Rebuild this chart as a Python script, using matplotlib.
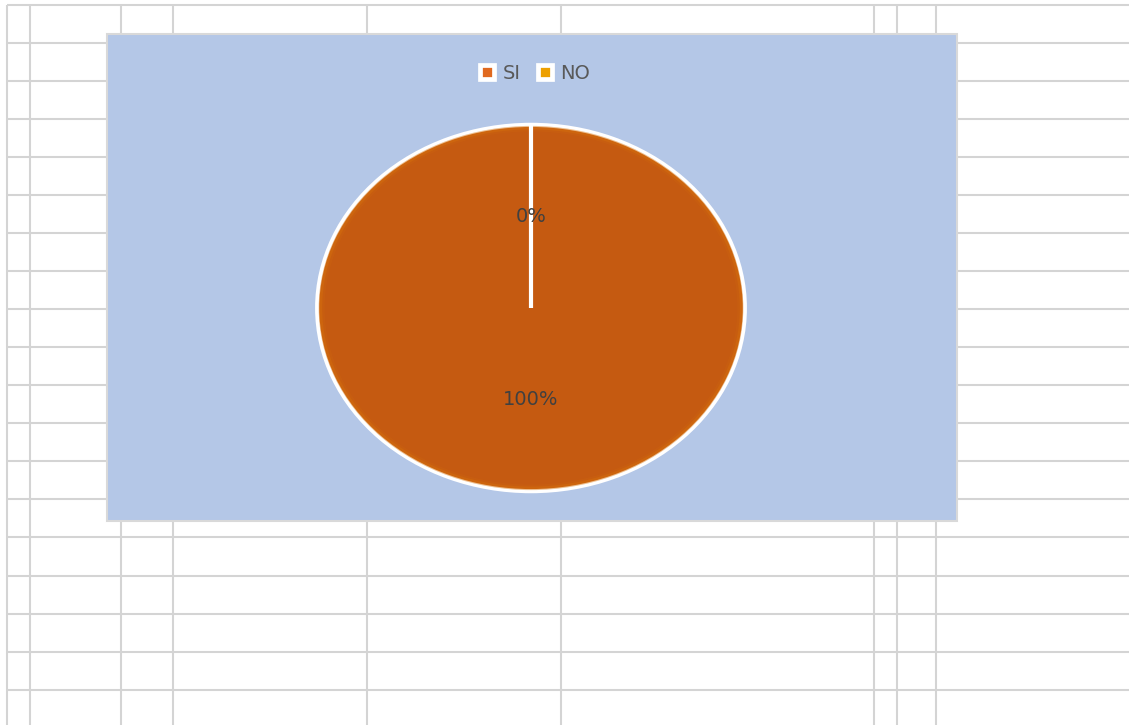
import matplotlib
matplotlib.use("Agg")
import matplotlib.pyplot as plt
from matplotlib.patches import Rectangle, Circle

# ---- data ----
categories = ["SI", "NO"]
values = [100, 0]
colors = ["#C55A11", "#ED9A0C"]
legend_colors = ["#E0691F", "#EDA000"]

# spreadsheet grid (pixel positions of the background cells)
grid_x = [7, 30, 121, 173, 367, 561, 874, 897, 936]
grid_y = [5, 43, 81, 119, 157, 195, 233, 271, 309, 347, 385, 423, 461,
          499, 537, 576, 614, 652, 690]

W, H = 1129, 725
fig = plt.figure(figsize=(W / 100, H / 100), dpi=100)
fig.patch.set_facecolor("white")

# background spreadsheet axes (pixel coordinates)
bg = fig.add_axes([0, 0, 1, 1])
bg.set_xlim(0, W)
bg.set_ylim(H, 0)
bg.axis("off")
gc = "#D4D4D4"
for y in grid_y:
    bg.plot([7, W], [y, y], color=gc, lw=1.5, solid_capstyle="butt")
for x in grid_x:
    bg.plot([x, x], [5, H], color=gc, lw=1.5, solid_capstyle="butt")

# chart area
cx0, cy0, cx1, cy1 = 107, 34, 957, 521
bg.add_patch(Rectangle((cx0, cy0), cx1 - cx0, cy1 - cy0, facecolor="#B4C7E7",
                       edgecolor="#D9D9D9", lw=1.5, zorder=5))

# legend (drawn manually to match the spreadsheet layout)
leg_marker_x = [487, 545]
leg_text_x = [503, 560]
leg_y = 72
for cat, col, mx, tx in zip(categories, legend_colors, leg_marker_x, leg_text_x):
    bg.plot([mx], [leg_y], ls="none", marker="s", markersize=10.5,
            markerfacecolor=col, markeredgecolor="white", markeredgewidth=3.4,
            zorder=6)
    bg.text(tx, leg_y + 1, cat, ha="left", va="center", color="#595959",
            fontsize=14, family="DejaVu Sans", zorder=6)

# pie axes (elliptical)
px0, py0, px1, py1 = 315, 123, 747, 493
ax = fig.add_axes([px0 / W, 1 - py1 / H, (px1 - px0) / W, (py1 - py0) / H])
ax.patch.set_alpha(0)
wedges, texts, autotexts = ax.pie(
    values, colors=colors, startangle=90, counterclock=False,
    autopct="%1.0f%%", pctdistance=0.5, radius=0.99,
    wedgeprops=dict(edgecolor="white", linewidth=3.0),
    textprops=dict(color="#404040", fontsize=14, family="DejaVu Sans"))
# subtle lighter rim like the spreadsheet gradient
ax.add_patch(Circle((0, 0), 0.975, fill=False, edgecolor="#D8740C", lw=2.5,
                    alpha=0.45, zorder=2))
ax.add_patch(Circle((0, 0), 0.962, fill=False, edgecolor="#D0680E", lw=2.0,
                    alpha=0.25, zorder=2))
wedges[1].set_zorder(3)
ax.set_aspect("auto")
ax.set_xlim(-1, 1)
ax.set_ylim(-1, 1)
ax.axis("off")

fig.savefig("out.png", dpi=100)
